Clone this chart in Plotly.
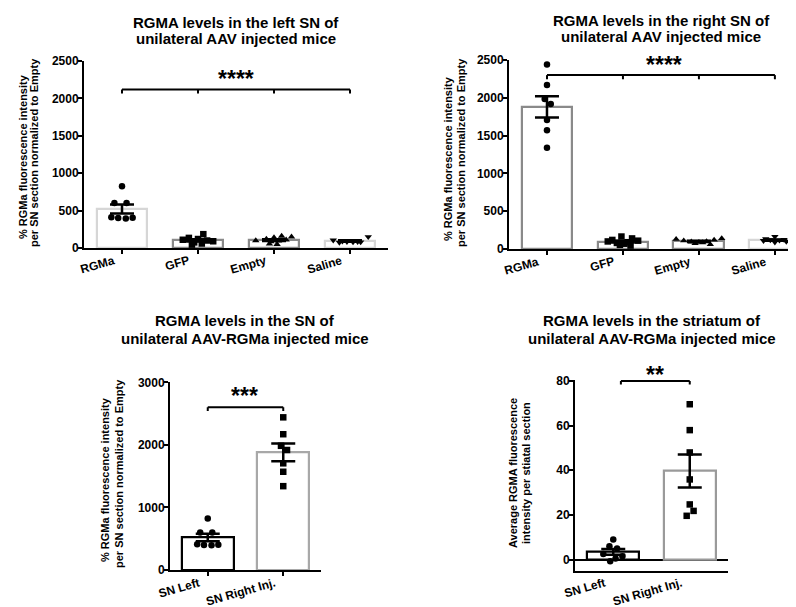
import plotly.graph_objects as go

W, H = 796, 607
OFFX, OFFY = 0, 8  # page offset of the plot in the browser
FONT = "Liberation Sans, Arial, Helvetica, sans-serif"

# ---------------- data ----------------
groups = ["RGMa", "GFP", "Empty", "Saline"]

# left SN (panel A)
left_rgma = [825, 600, 600, 410, 400, 395, 405]
left_gfp = [185, 135, 120, 110, 100, 90, 75, 60, 45]
left_empty = [160, 150, 140, 120, 110, 100, 95, 85, 55, 50]
left_saline = [150, 105, 90, 85, 85, 80, 80, 75]
left_mean = [520, 102, 106, 94]
left_sem = [60, 15, 12, 9]

# right SN (panel B)
right_rgma = [2440, 2170, 1985, 1918, 1705, 1570, 1340]
right_gfp = [165, 140, 120, 110, 100, 90, 80, 70, 55, 45]
right_empty = [140, 130, 120, 110, 100, 95, 90, 85, 75, 60]
right_saline = [165, 135, 125, 120, 115, 110, 100, 90]
right_mean = [1880, 98, 100, 118]
right_sem = [142, 12, 8, 9]

# SN left vs right (panel C)
sides = ["SN Left", "SN Right Inj."]
sn_mean = [520, 1880]
sn_sem = [60, 142]

# striatum (panel D)
striatum_left = [9, 6, 5, 2.5, 1.5, 0.5, -0.8]
striatum_right = [69.6, 58, 48, 35.9, 24.7, 21.8, 19.6]
striatum_mean = [3.4, 39.7]
striatum_sem = [1.3, 7.4]

# horizontal scatter (jitter) of dots within each column
jit_left_rgma = [0, -0.1, 0.06, -0.14, -0.05, 0.05, 0.14]
jit_left_gfp = [0.07, -0.12, 0.0, -0.2, 0.12, 0.2, -0.05, 0.05, -0.08]
jit_left_empty = [0.1, 0.23, 0.0, -0.1, 0.16, -0.24, 0.06, -0.04, -0.06, 0.04]
jit_left_saline = [0.24, -0.22, -0.1, 0.1, -0.04, 0.04, 0.14, -0.14]
jit_right_rgma = [0, 0, -0.03, 0.05, 0, 0, 0]
jit_right_gfp = [-0.02, 0.12, -0.14, 0.2, -0.2, 0.06, -0.08, 0.02, -0.04, 0.1]
jit_right_empty = [0.3, -0.3, 0.2, -0.2, 0.1, -0.1, 0.0, 0.05, -0.05, 0.15]
jit_right_saline = [0.0, -0.12, 0.12, -0.06, 0.06, -0.15, 0.15, 0.0]
jit_str_left = [0, -0.05, 0.05, -0.13, 0.12, 0.03, -0.04]
jit_str_right = [0, 0, 0, 0, 0, 0.05, -0.04]


def px(x):
    return (x - OFFX) / W


def py(y):
    return 1 - (y - OFFY) / H


# ---------------- figure ----------------
fig = go.Figure()

LIGHT = "#d6d6d6"
MID = "#8a8a8a"


def add_panel(ax, names, means, sems, line_colors, point_sets, symbols, jitters, width):
    xa = "x" if ax == 1 else f"x{ax}"
    ya = "y" if ax == 1 else f"y{ax}"
    xs = list(range(len(names)))
    fig.add_trace(go.Bar(
        x=xs, y=means, width=width, xaxis=xa, yaxis=ya,
        marker=dict(color="white", line=dict(color=line_colors, width=2.2)),
        showlegend=False, hoverinfo="skip"))
    for i, (pts, sym, jit) in enumerate(zip(point_sets, symbols, jitters)):
        fig.add_trace(go.Scatter(
            x=[i + j for j in jit], y=pts, mode="markers", xaxis=xa, yaxis=ya,
            marker=dict(symbol=sym, size=6.5, color="black"),
            showlegend=False, hoverinfo="skip", cliponaxis=False))
    fig.add_trace(go.Scatter(
        x=xs, y=means, mode="markers", xaxis=xa, yaxis=ya,
        marker=dict(size=1, color="rgba(0,0,0,0)"),
        error_y=dict(type="data", array=sems, color="black", thickness=2.5, width=12),
        showlegend=False, hoverinfo="skip"))


add_panel(1, groups, left_mean, left_sem, [LIGHT, MID, MID, LIGHT],
          [left_rgma, left_gfp, left_empty, left_saline],
          ["circle", "square", "triangle-up", "triangle-down"],
          [jit_left_rgma, jit_left_gfp, jit_left_empty, jit_left_saline], 0.67)
add_panel(2, groups, right_mean, right_sem, [MID, MID, MID, LIGHT],
          [right_rgma, right_gfp, right_empty, right_saline],
          ["circle", "square", "triangle-up", "triangle-down"],
          [jit_right_rgma, jit_right_gfp, jit_right_empty, jit_right_saline], 0.67)
add_panel(3, sides, sn_mean, sn_sem, ["black", "#a8a8a8"],
          [left_rgma, right_rgma], ["circle", "square"],
          [jit_left_rgma, jit_right_rgma], 0.69)
add_panel(4, sides, striatum_mean, striatum_sem, ["black", "#9a9a9a"],
          [striatum_left, striatum_right], ["circle", "square"],
          [jit_str_left, jit_str_right], 0.68)

tickfont = dict(family=FONT, size=12, color="black", weight="bold")


def yaxis(domain, rng, tickvals, anchor, zeroline=False):
    return dict(domain=domain, range=rng, tickvals=tickvals, showline=True,
                linecolor="black", linewidth=2, ticks="outside", ticklen=4,
                tickwidth=2, tickcolor="black", tickfont=tickfont, anchor=anchor,
                ticklabelstandoff=-3,
                showgrid=False, zeroline=zeroline, zerolinecolor="black",
                zerolinewidth=2, fixedrange=True, automargin=False)


def xaxis(domain, rng, labels, anchor, ticks=True):
    return dict(domain=domain, range=rng, tickvals=list(range(len(labels))),
                showticklabels=False, anchor=anchor, showline=True, linecolor="black",
                linewidth=2, ticks="outside" if ticks else "", ticklen=4, tickwidth=2,
                tickcolor="black", showgrid=False, zeroline=False, fixedrange=True,
                automargin=False)


fig.update_layout(
    width=W, height=H, margin=dict(l=0, r=0, t=0, b=0, pad=0),
    paper_bgcolor="white", plot_bgcolor="white", bargap=0,
    xaxis=xaxis([px(76), px(380)], [-0.5, 3.5], groups, "y"),
    yaxis=yaxis([py(248), py(61)], [0, 2500], [0, 500, 1000, 1500, 2000, 2500], "x"),
    xaxis2=xaxis([px(501), px(795)], [-0.5, 3.37], groups, "y2"),
    yaxis2=yaxis([py(249), py(60)], [0, 2500], [0, 500, 1000, 1500, 2000, 2500], "x2"),
    xaxis3=xaxis([px(162), px(313)], [-0.5, 1.5], sides, "y3"),
    yaxis3=yaxis([py(570), py(382.3)], [0, 3000], [0, 1000, 2000, 3000], "x3"),
    xaxis4=xaxis([px(567), px(720)], [-0.5, 1.5], sides, "y4", ticks=False),
    yaxis4=yaxis([py(570.7), py(379.7)], [-5, 80.6], [0, 20, 40, 60, 80], "x4", zeroline=True),
)


# significance brackets
def bracket(xref, yref, xs_down, x0, x1, y, drop):
    fig.add_shape(type="line", xref=xref, yref=yref, x0=x0, x1=x1, y0=y, y1=y,
                  line=dict(color="black", width=2))
    for xv in xs_down:
        fig.add_shape(type="line", xref=xref, yref=yref, x0=xv, x1=xv, y0=y, y1=y - drop,
                      line=dict(color="black", width=2))


bracket("x", "y", [0, 1, 2, 3], 0, 3, 2120, 55)
bracket("x2", "y2", [0, 1, 2, 3], 0, 3, 2300, 55)
bracket("x3", "y3", [0, 1], 0, 1, 2600, 60)
bracket("x4", "y4", [0.1, 1], 0.1, 1, 80, 1.6)

annotations = []


def star(text, xref, yref, x, y):
    annotations.append(dict(text=f"<b>{text}</b>", xref=xref, yref=yref, x=x, y=y,
                            showarrow=False, yanchor="middle", xanchor="center",
                            font=dict(family=FONT, size=23, color="black")))


star("****", "x", "y", 1.5, 2260)
star("****", "x2", "y2", 1.54, 2434)
star("***", "x3", "y3", 0.49, 2779)
star("**", "x4", "paper", 0.55, py(374.7))


def cat_labels(xref, labels, axis_y):
    for i, t in enumerate(labels):
        annotations.append(dict(text=f"<b>{t}</b>", xref=xref, yref="paper",
                                x=i, y=py(axis_y + 4), xshift=-5, showarrow=False,
                                textangle=-16, xanchor="right", yanchor="top",
                                borderpad=0,
                                font=dict(family=FONT, size=12, color="black")))


cat_labels("x", groups, 248)
cat_labels("x2", groups, 249)
cat_labels("x3", sides, 570)
cat_labels("x4", sides, 570.7)


def title(lines, xc, ys):
    for t, yp in zip(lines, ys):
        annotations.append(dict(text=f"<b>{t}</b>", xref="paper", yref="paper",
                                x=px(xc), y=py(yp), showarrow=False,
                                xanchor="center", yanchor="middle",
                                font=dict(family=FONT, size=15, color="black")))


title(["RGMA levels in the left SN of", "unilateral AAV injected mice"], 228, [22, 38])
title(["RGMA levels in the right SN of", "unilateral AAV injected mice"], 653, [21, 37])
title(["RGMA levels in the SN of", "unilateral AAV-RGMa injected mice"], 237, [320, 338])
title(["RGMA levels in the striatum of", "unilateral AAV-RGMa injected mice"], 644, [320, 338])


def ytitle(lines, xs, ys):
    for t, xp, yp in zip(lines, xs, ys):
        annotations.append(dict(text=f"<b>{t}</b>", xref="paper", yref="paper",
                                x=px(xp), y=py(yp), showarrow=False, textangle=-90,
                                xanchor="center", yanchor="middle",
                                font=dict(family=FONT, size=11, color="black")))


sn_title = ["% RGMa fluorescence intensity", "per SN section normalized to Empty"]
ytitle(sn_title, [15, 26], [157, 153])
ytitle(sn_title, [440, 453], [158, 153])
ytitle(sn_title, [97, 111], [480, 474])
ytitle(["Average RGMA fluorescence", "intensity per stiatal section"], [505, 518], [473, 473])

fig.update_layout(annotations=annotations)

fig.write_html("out.html")
